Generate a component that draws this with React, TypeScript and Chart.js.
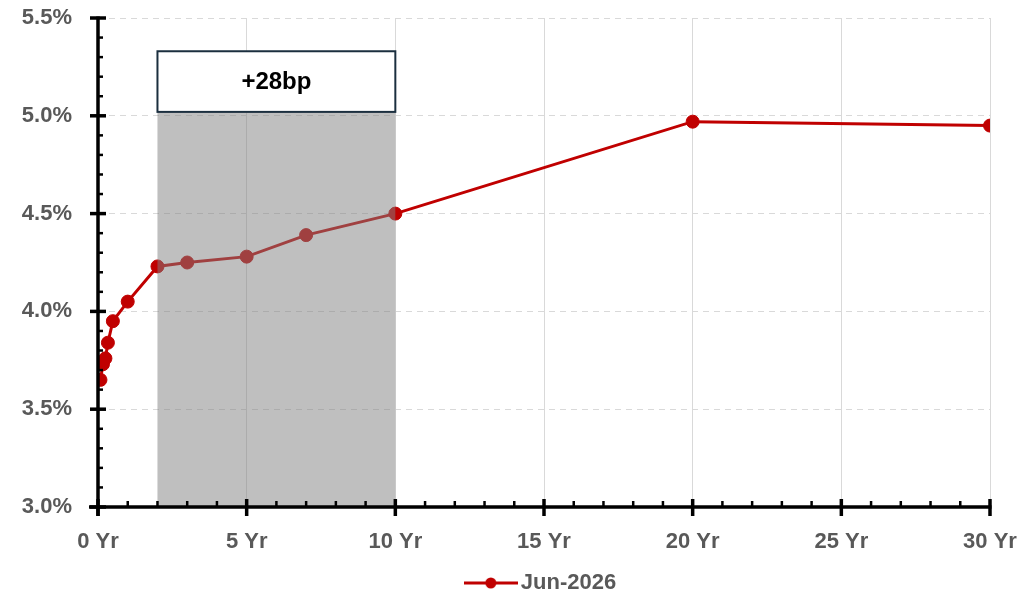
import React, { useEffect, useRef } from "react";
import { Chart, registerables } from "chart.js";

Chart.register(...registerables);

// ---- data ----
const maturities = [0.083, 0.167, 0.25, 0.333, 0.5, 1, 2, 3, 5, 7, 10, 20, 30];
const yields = [3.65, 3.73, 3.76, 3.84, 3.95, 4.05, 4.23, 4.25, 4.28, 4.39, 4.5, 4.97, 4.95];
const seriesLabel = "Jun-2026";
const xRange = [0, 30];
const yRange = [3.0, 5.5];
const shadeRange = [2, 10];
const shadeTop = 5.02;
const boxTop = 5.33;
const boxText = "+28bp";

const FONT = '"Liberation Sans", Arial, sans-serif';
const RED = "#C00000";
const GREY_TXT = "#595959";

function makeMarker(): HTMLCanvasElement {
  const c = document.createElement("canvas");
  c.width = 54;
  c.height = 14;
  const g = c.getContext("2d")!;
  g.strokeStyle = RED;
  g.lineWidth = 3;
  g.beginPath();
  g.moveTo(0, 7);
  g.lineTo(54, 7);
  g.stroke();
  g.fillStyle = RED;
  g.beginPath();
  g.arc(27, 7, 5.5, 0, Math.PI * 2);
  g.fill();
  return c;
}

const decorPlugin = {
  id: "decor",
  afterDatasetsDraw(chart: any) {
    const { ctx, scales } = chart;
    const x = scales.x;
    const y = scales.y;
    const x0 = x.getPixelForValue(shadeRange[0]);
    const x1 = x.getPixelForValue(shadeRange[1]);
    const yb = y.getPixelForValue(yRange[0]);
    const yt = y.getPixelForValue(shadeTop);
    const yb2 = y.getPixelForValue(boxTop);
    ctx.save();
    ctx.fillStyle = "rgba(128,128,128,0.5)";
    ctx.fillRect(x0, yt, x1 - x0, yb - yt);
    ctx.fillStyle = "#ffffff";
    ctx.fillRect(x0, yb2, x1 - x0, yt - yb2);
    ctx.strokeStyle = "#1b2f3f";
    ctx.lineWidth = 2;
    ctx.strokeRect(x0, yb2, x1 - x0, yt - yb2);
    ctx.fillStyle = "#000000";
    ctx.font = `bold 24px ${FONT}`;
    ctx.textAlign = "center";
    ctx.textBaseline = "middle";
    ctx.fillText(boxText, (x0 + x1) / 2, (yt + yb2) / 2 + 1);
    ctx.restore();
  },
  afterDraw(chart: any) {
    const { ctx, chartArea: ca, scales } = chart;
    const x = scales.x;
    const y = scales.y;
    const line = (ax: number, ay: number, bx: number, by: number, w: number) => {
      ctx.lineWidth = w;
      ctx.beginPath();
      ctx.moveTo(ax, ay);
      ctx.lineTo(bx, by);
      ctx.stroke();
    };
    ctx.save();
    ctx.strokeStyle = "#000000";
    ctx.lineCap = "butt";
    // axis lines
    line(ca.left, ca.top - 1.5, ca.left, ca.bottom + 9, 3.5);
    line(ca.left - 9, ca.bottom, ca.right + 1.5, ca.bottom, 3.5);
    // y ticks
    for (let i = 30; i <= 55; i++) {
      const py = y.getPixelForValue(i / 10);
      if (i % 5 === 0) line(ca.left - 8, py, ca.left + 8, py, 3.5);
      else line(ca.left, py, ca.left + 5, py, 2.5);
    }
    // x ticks
    for (let v = xRange[0]; v <= xRange[1]; v++) {
      const px = x.getPixelForValue(v);
      if (v % 5 === 0) line(px, ca.bottom - 8, px, ca.bottom + 9, 3.5);
      else line(px, ca.bottom - 6, px, ca.bottom, 2.5);
    }
    ctx.restore();
  },
};

export default function App() {
  const ref = useRef<HTMLCanvasElement>(null);
  useEffect(() => {
    document.body.style.margin = "0";
    const marker = makeMarker();
    const chart = new Chart(ref.current!, {
      type: "line",
      data: {
        datasets: [
          {
            label: seriesLabel,
            data: maturities.map((m, i) => ({ x: m, y: yields[i] })),
            borderColor: RED,
            backgroundColor: RED,
            borderWidth: 3,
            pointRadius: 6.5,
            pointBorderWidth: 1,
            pointBackgroundColor: RED,
            pointBorderColor: RED,
            tension: 0,
          },
        ],
      },
      options: {
        animation: false,
        responsive: true,
        maintainAspectRatio: false,
        layout: { padding: { left: 0, right: 32, top: 18, bottom: -10 } },
        plugins: {
          tooltip: { enabled: false },
          legend: {
            position: "bottom",
            fullSize: false,
            labels: {
              usePointStyle: true,
              pointStyleWidth: 38,
              padding: 10,
              color: GREY_TXT,
              font: { family: FONT, size: 22, weight: "bold" },
              generateLabels: (c: any) =>
                Chart.defaults.plugins.legend.labels
                  .generateLabels(c)
                  .map((l: any) => ({ ...l, pointStyle: marker, fontColor: GREY_TXT })),
            },
          },
        },
        scales: {
          x: {
            type: "linear",
            min: xRange[0],
            max: xRange[1],
            afterFit: (s: any) => {
              s.height = 55;
              s.paddingLeft = 0;
              s.paddingRight = 0;
            },
            grid: {
              color: (c: any) =>
                c.tick && c.tick.value === 0 ? "rgba(0,0,0,0)" : "#d9d9d9",
              lineWidth: 1,
              drawTicks: false,
            },
            border: { display: false },
            ticks: {
              stepSize: 5,
              autoSkip: false,
              maxRotation: 0,
              padding: 22,
              color: GREY_TXT,
              font: { family: FONT, size: 22, weight: "bold" },
              callback: (v: any) => `${v} Yr`,
            },
          },
          y: {
            type: "linear",
            min: yRange[0],
            max: yRange[1],
            afterFit: (s: any) => {
              s.width = 98;
              s.paddingTop = 0;
              s.paddingBottom = 0;
            },
            grid: {
              color: "#d9d9d9",
              lineWidth: 1,
              drawTicks: false,
            },
            border: { display: false, dash: [6, 5] },
            ticks: {
              stepSize: 0.5,
              padding: 26,
              color: GREY_TXT,
              font: { family: FONT, size: 22, weight: "bold" },
              callback: (v: any) => Number(v).toFixed(1) + "%",
            },
          },
        },
      },
      plugins: [decorPlugin],
    });
    return () => chart.destroy();
  }, []);
  return (
    <div style={{ position: "relative", width: "1022px", height: "594px" }}>
      <canvas ref={ref} />
    </div>
  );
}
